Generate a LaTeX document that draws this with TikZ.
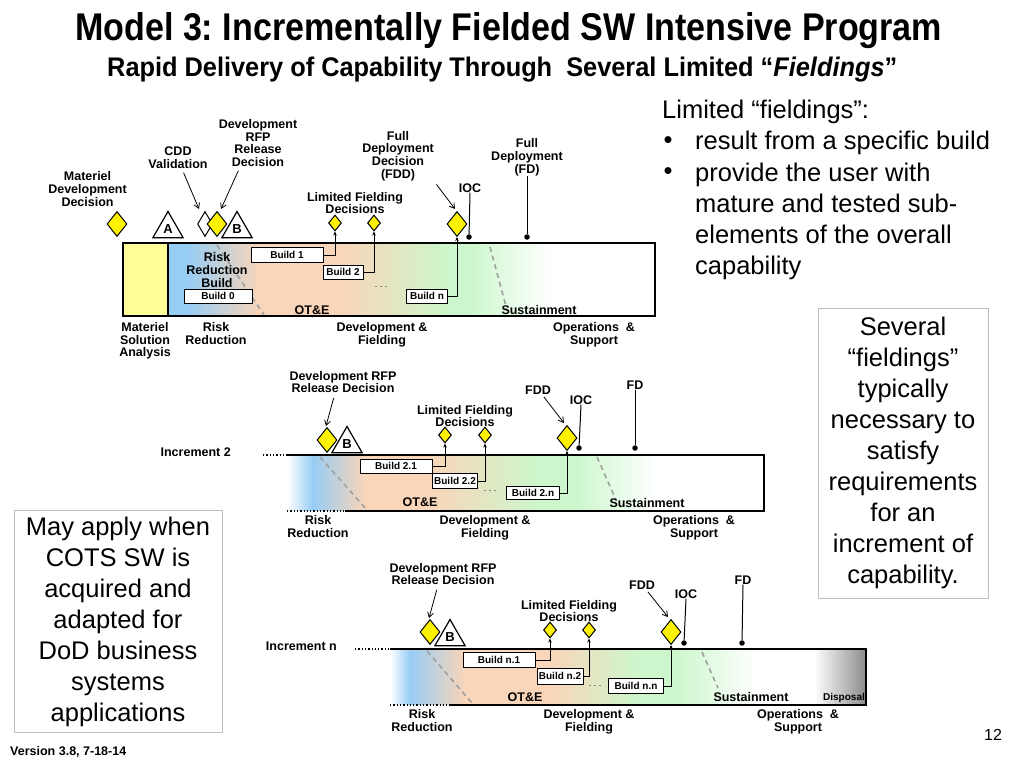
\documentclass[tikz,border=0pt]{standalone}
\usepackage{fontspec}
\setmainfont{Liberation Sans}
\usepackage{graphicx}
\usetikzlibrary{arrows.meta, positioning, shapes.geometric}
\frenchspacing
\definecolor{msayel}{RGB}{255,255,153}
\definecolor{rrblue}{RGB}{150,205,245}
\definecolor{peach}{RGB}{249,213,185}
\definecolor{fgreen}{RGB}{204,247,204}
\definecolor{dispgray}{RGB}{140,140,140}
\definecolor{dashgray}{RGB}{160,160,160}
\definecolor{boxgray}{RGB}{190,190,190}
\tikzset{
  lbl/.style={font=\fontsize{12.5}{12.8}\selectfont\bfseries, align=center, inner sep=0pt},
  phlbl/.style={lbl, anchor=north},
  build/.style={draw, fill=white, line width=0.9pt, font=\fontsize{10}{10}\selectfont\bfseries, inner sep=0pt, minimum height=14pt},
  dmd/.style={diamond, draw, fill=yellow, line width=1pt, inner sep=0pt, minimum width=20pt, minimum height=25pt},
  sdmd/.style={dmd, minimum width=13pt, minimum height=16pt},
  tri/.style={regular polygon, regular polygon sides=3, draw, fill=white, line width=1.2pt, minimum size=35pt, inner sep=0pt, font=\fontsize{13}{13}\selectfont\bfseries},
  arr/.style={-{Stealth[length=4pt, width=3.5pt]}, line width=0.8pt},
  lblarr/.style={-{Straight Barb[length=5pt, width=6pt]}, line width=0.8pt},
  phase/.style={dashgray, dash pattern=on 5pt off 4pt, line width=1.6pt},
  msdot/.style={circle, fill, inner sep=0pt, minimum size=5.5pt},
  ddd/.style={font=\fontsize{9}{9}\selectfont, inner sep=0pt},
  bigtxt/.style={font=\fontsize{25.5}{31}\selectfont, inner sep=0pt},
}

\begin{document}
\begin{tikzpicture}[x=1pt, y=-1pt]
  \useasboundingbox (0,0) rectangle (1024,768);

  % titles
  \node[anchor=base west, inner sep=0pt] (title) at (75,41)
    {\resizebox{867pt}{28pt}{\bfseries Model 3: Incrementally Fielded SW Intensive Program}};
  \node[anchor=base west, inner sep=0pt] (subtitle) at (107,77)
    {\resizebox{790pt}{19.5pt}{\bfseries Rapid Delivery of Capability Through\ \ Several Limited ``\textit{Fieldings}''}};

  % ---- first increment ----
  \fill[msayel] (123,243) rectangle (168,316);
  \foreach \xa/\xb/\ca/\cb in {168/187/rrblue/rrblue, 186/260/rrblue/peach, 259/340/peach/peach,
      339/450/peach/fgreen, 449/470/fgreen/fgreen, 469/550/fgreen/white}
    \shade[left color=\ca, right color=\cb] (\xa,244) rectangle (\xb,315);
  \draw[phase] (217,245) -- (264,315);
  \draw[phase] (490,247) -- (507,310);
  \draw[line width=1.3pt] (123,243) rectangle (655,316);
  \draw[line width=1.3pt] (168,243) -- (168,316);

  \node[lbl] (rrb) at (217,270) {Risk\\Reduction\\Build};
  \node[build, minimum width=68pt] (b0) at (218,296) {Build 0};
  \node[build, minimum width=72pt, minimum height=15pt] (b1) at (287,255) {Build 1};
  \node[build, minimum width=40pt] (b2) at (343,272) {Build 2};
  \node[build, minimum width=41pt] (bn) at (427,296) {Build n};
  \node[ddd] (dots1) at (381,287) {.\ .\ .};
  \node[lbl] (ote1) at (312,310) {OT\&E};
  \node[lbl] (sus1) at (539,310) {Sustainment};

  \node[dmd] (mdd) at (117,224) {};
  \node[lbl, anchor=east] (mddlbl) at (127,189) {Materiel\\Development\\Decision};
  \node[tri] (tria) at (168,229) {A};
  \node[dmd, fill=white, minimum width=15pt] (cdd) at (205,224) {};
  \node[dmd] (rfp1) at (217,224) {};
  \node[tri] (trib1) at (237,229) {B};
  \node[lbl] (cddlbl) at (178,158) {CDD\\Validation};
  \node[lbl] (rfp1lbl) at (258,143) {Development\\RFP\\Release\\Decision};
  \draw[lblarr, shorten <=4pt] ([xshift=4pt]cddlbl.south) -- ([xshift=-6pt,yshift=2pt]cdd.north);
  \draw[lblarr, shorten <=4pt] ([xshift=-18pt]rfp1lbl.south) -- ([xshift=4pt,yshift=2pt]rfp1.north);

  \node[sdmd] (lfd1) at (335,223) {};
  \node[sdmd] (lfd2) at (374,223) {};
  \node[lbl] (lfdlbl1) at (355,203) {Limited Fielding\\Decisions};
  \node[dmd] (fdd1) at (457,224) {};
  \node[lbl, anchor=east] (fdd1lbl) at (434,156) {Full\\Deployment\\Decision\\(FDD)};
  \draw[lblarr, shorten <=4pt] (fdd1lbl.south east) -- ([xshift=-2pt,yshift=2pt]fdd1.north);
  \draw[arr] (b1.east) -| (lfd1.south);
  \draw[arr] (b2.east) -| (lfd2.south);
  \draw[arr] (bn.east) -| (fdd1.south);

  \node[lbl] (ioc1lbl) at (470,188) {IOC};
  \node[msdot] (ioc1) at (469,237) {};
  \draw[line width=1pt] (ioc1lbl.south) -- (ioc1);
  \node[lbl] (fd1lbl) at (527,157) {Full\\Deployment\\(FD)};
  \node[msdot] (fd1) at (527,237) {};
  \draw[line width=1pt] (fd1lbl.south) -- (fd1);

  \node[phlbl] (msa) at (145,322) {Materiel\\Solution\\Analysis};
  \node[phlbl] (rr1) at (216,322) {Risk\\Reduction};
  \node[phlbl] (df1) at (382,322) {Development \&\\Fielding};
  \node[phlbl] (os1) at (594,322) {Operations~~\&\\Support};

  % ---- increment 2 ----
  \foreach \xa/\xb/\ca/\cb in {287/313/white/rrblue, 312/365/rrblue/peach, 364/430/peach/peach,
      429/540/peach/fgreen, 539/575/fgreen/fgreen, 574/657/fgreen/white}
    \shade[left color=\ca, right color=\cb] (\xa,456) rectangle (\xb,510);
  \draw[phase] (320,457) -- (367,510);
  \draw[phase] (597,457) -- (616,500);
  \draw[line width=1.3pt] (287,455) -- (764,455) -- (764,511) -- (345,511);
  \draw[line width=1.3pt, dotted] (263,455) -- (287,455);
  \draw[line width=1.3pt, dotted] (287,511) -- (345,511);
  \node[lbl, anchor=east] (inc2) at (231,452) {Increment 2};

  \node[build, minimum width=72pt] (b21) at (396,466) {Build 2.1};
  \node[build, minimum width=45pt, minimum height=15pt] (b22) at (455,481) {Build 2.2};
  \node[build, minimum width=53pt, minimum height=13pt] (b2n) at (533,493) {Build 2.n};
  \node[ddd] (dots2) at (490,491) {.\ .\ .};
  \node[lbl] (ote2) at (420,502) {OT\&E};
  \node[lbl] (sus2) at (647,503) {Sustainment};

  \node[dmd] (rfp2) at (327,440) {};
  \node[tri] (trib2) at (347,444) {B};
  \node[lbl] (rfp2lbl) at (343,382) {Development RFP\\Release Decision};
  \draw[lblarr, shorten <=5pt] ([xshift=-8pt]rfp2lbl.south) -- ([xshift=-1pt,yshift=1pt]rfp2.north);
  \node[sdmd] (lfd21) at (445,435) {};
  \node[sdmd] (lfd22) at (485,435) {};
  \node[lbl] (lfdlbl2) at (465,416) {Limited Fielding\\Decisions};
  \node[dmd] (fdd2) at (567,438) {};
  \node[lbl] (fdd2lbl) at (538,390) {FDD};
  \draw[lblarr, shorten <=3pt] ([xshift=4pt]fdd2lbl.south) -- ([xshift=-3pt,yshift=2pt]fdd2.north);
  \draw[arr] (b21.east) -| (lfd21.south);
  \draw[arr] (b22.east) -| (lfd22.south);
  \draw[arr] (b2n.east) -| (fdd2.south);

  \node[lbl] (ioc2lbl) at (581,400) {IOC};
  \node[msdot] (ioc2) at (579,448) {};
  \draw[line width=1pt] (ioc2lbl.south) -- (ioc2);
  \node[lbl] (fd2lbl) at (635,385) {FD};
  \node[msdot] (fd2) at (635,448) {};
  \draw[line width=1pt] (fd2lbl.south) -- (fd2);

  \node[phlbl] (rr2) at (318,515) {Risk\\Reduction};
  \node[phlbl] (df2) at (485,515) {Development \&\\Fielding};
  \node[phlbl] (os2) at (694,515) {Operations~~\&\\Support};

  % ---- increment n ----
  \foreach \xa/\xb/\ca/\cb in {390/410/white/rrblue, 409/465/rrblue/peach, 464/550/peach/peach,
      549/640/peach/fgreen, 639/675/fgreen/fgreen, 674/757/fgreen/white, 814/866/white/dispgray}
    \shade[left color=\ca, right color=\cb] (\xa,650) rectangle (\xb,704);
  \draw[phase] (427,651) -- (472,703);
  \draw[phase] (702,652) -- (718,688);
  \draw[line width=1.3pt] (390,649) -- (866,649) -- (866,705) -- (450,705);
  \draw[line width=1.3pt, dotted] (355,649) -- (390,649);
  \draw[line width=1.3pt, dotted] (390,705) -- (450,705);
  \node[lbl, anchor=east] (incn) at (337,646) {Increment n};

  \node[build, minimum width=72pt, minimum height=15pt] (bn1) at (499,660) {Build n.1};
  \node[build, minimum width=46pt, minimum height=16pt] (bn2) at (560,676) {Build n.2};
  \node[build, minimum width=55pt, minimum height=15pt] (bnn) at (636,686) {Build n.n};
  \node[ddd] (dotsn) at (595,686) {.\ .\ .};
  \node[lbl] (oten) at (525,697) {OT\&E};
  \node[lbl] (susn) at (751,697) {Sustainment};
  \node[lbl, font=\fontsize{10}{10}\selectfont\bfseries] (disp) at (844,698) {Disposal};

  \node[dmd] (rfpn) at (430,632) {};
  \node[tri] (tribn) at (450,637) {B};
  \node[lbl] (rfpnlbl) at (443,574) {Development RFP\\Release Decision};
  \draw[lblarr, shorten <=5pt] ([xshift=-5pt]rfpnlbl.south) -- ([xshift=-1pt,yshift=1pt]rfpn.north);
  \node[sdmd] (lfdn1) at (550,630) {};
  \node[sdmd] (lfdn2) at (589,630) {};
  \node[lbl] (lfdlbln) at (569,611) {Limited Fielding\\Decisions};
  \node[dmd] (fddn) at (671,632) {};
  \node[lbl] (fddnlbl) at (642,585) {FDD};
  \draw[lblarr, shorten <=3pt] ([xshift=4pt]fddnlbl.south) -- ([xshift=-3pt,yshift=2pt]fddn.north);
  \draw[arr] (bn1.east) -| (lfdn1.south);
  \draw[arr] (bn2.east) -| (lfdn2.south);
  \draw[arr] (bnn.east) -| (fddn.south);

  \node[lbl] (iocnlbl) at (686,594) {IOC};
  \node[msdot] (iocn) at (684,643) {};
  \draw[line width=1pt] (iocnlbl.south) -- (iocn);
  \node[lbl] (fdnlbl) at (743,580) {FD};
  \node[msdot] (fdn) at (742,643) {};
  \draw[line width=1pt] (fdnlbl.south) -- (fdn);

  \node[phlbl] (rrn) at (422,709) {Risk\\Reduction};
  \node[phlbl] (dfn) at (589,709) {Development \&\\Fielding};
  \node[phlbl] (osn) at (798,709) {Operations~~\&\\Support};

  % ---- side texts ----
  \node[bigtxt, anchor=west] (limfld) at (662,112) {Limited ``fieldings'':};
  \node[bigtxt] (dot1) at (668,143) {\textbullet};
  \node[bigtxt, anchor=west] (pt1) at (695,143) {result from a specific build};
  \node[bigtxt] (dot2) at (668,174) {\textbullet};
  \node[bigtxt, anchor=west, align=left] (pt2) at (695,221) {provide the user with\\mature and tested sub-\\elements of the overall\\capability};

  \node[draw=boxgray, line width=1pt, minimum width=170pt, minimum height=290pt] (sevbox) at (903,453) {};
  \node[bigtxt, align=center] (sevtxt) at (903,453) {Several\\``fieldings''\\typically\\necessary to\\satisfy\\requirements\\for an\\increment of\\capability.};
  \node[draw=boxgray, line width=1pt, minimum width=208pt, minimum height=222pt] (cotsbox) at (118,621) {};
  \node[bigtxt, align=center] (cotstxt) at (118,622) {May apply when\\COTS SW is\\acquired and\\adapted for\\DoD business\\systems\\applications};

  \node[lbl, anchor=west] (version) at (10,752) {Version 3.8, 7-18-14};
  \node[font=\fontsize{16}{16}\selectfont, inner sep=0pt] (pageno) at (993,735) {12};
\end{tikzpicture}
\end{document}
